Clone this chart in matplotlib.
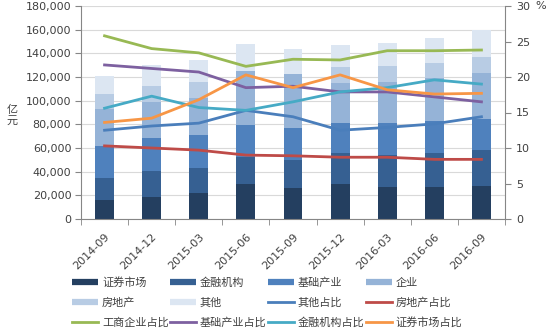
import matplotlib
matplotlib.use("Agg")
import matplotlib.pyplot as plt
from matplotlib.lines import Line2D
import numpy as np

plt.rcParams['font.family'] = ['DejaVu Sans', 'Noto Sans CJK SC']

categories = ['2014-09', '2014-12', '2015-03', '2015-06', '2015-09',
              '2015-12', '2016-03', '2016-06', '2016-09']

# stacked bar series (亿元)
zhengquan = [16000, 18300, 22300, 29900, 25900, 29300, 26800, 26800, 28200]
jinrong = [19000, 22300, 20500, 22800, 24000, 26800, 27300, 29300, 30100]
jichu = [27000, 28100, 28200, 26700, 27300, 25300, 26700, 27000, 26500]
qiye = [31000, 30400, 31600, 45900, 45300, 33800, 35200, 36300, 38850]
fangdichan = [12600, 13600, 13300, 0, 0, 13000, 13300, 12700, 13000]
qita = [15400, 17300, 18500, 22300, 21000, 18800, 19200, 20600, 23050]

# share lines (%)
qita_pct = [12.5, 13.1, 13.5, 15.3, 14.4, 12.5, 12.9, 13.4, 14.4]
fdc_pct = [10.3, 10.0, 9.7, 9.0, 8.9, 8.7, 8.7, 8.4, 8.4]
gsqy_pct = [25.8, 24.0, 23.4, 21.5, 22.5, 22.4, 23.7, 23.7, 23.8]
jccy_pct = [21.7, 21.2, 20.7, 18.5, 18.7, 17.9, 17.9, 17.2, 16.5]
jrjg_pct = [15.6, 17.3, 15.7, 15.3, 16.5, 17.9, 18.5, 19.6, 19.0]
zqsc_pct = [13.6, 14.2, 16.8, 20.3, 18.5, 20.3, 18.2, 17.6, 17.7]

bar_series = [
    ('证券市场', zhengquan, '#243F60'),
    ('金融机构', jinrong, '#366092'),
    ('基础产业', jichu, '#4F81BD'),
    ('企业', qiye, '#95B3D7'),
    ('房地产', fangdichan, '#B8CCE4'),
    ('其他', qita, '#DCE6F2'),
]
line_series = [
    ('其他占比', qita_pct, '#4A7EBB'),
    ('房地产占比', fdc_pct, '#BE4B48'),
    ('工商企业占比', gsqy_pct, '#98B954'),
    ('基础产业占比', jccy_pct, '#7D60A0'),
    ('金融机构占比', jrjg_pct, '#46AAC5'),
    ('证券市场占比', zqsc_pct, '#F79646'),
]

W, H = 554, 332
fig = plt.figure(figsize=(W / 100, H / 100), dpi=100)
ax = fig.add_axes([81 / W, 1 - 219 / H, (505 - 81) / W, (219 - 6) / H])

x = np.arange(len(categories))
bottom = np.zeros(len(categories))
handles = []
for name, vals, col in bar_series:
    ax.bar(x, vals, 0.4, bottom=bottom, color=col, zorder=2)
    bottom += np.array(vals)
    handles.append(Line2D([], [], color=col, lw=4.5, solid_capstyle='butt', label=name))

ax.set_xlim(-0.5, len(categories) - 0.5)
ax.set_ylim(0, 180000)
ax.set_yticks(np.arange(0, 180001, 20000))
ax.set_yticklabels([f'{v:,}' for v in range(0, 180001, 20000)])
ax.yaxis.grid(True, color='#D9D9D9', lw=0.8, zorder=0)
ax.set_axisbelow(True)
ax.set_xticks(x)
ax.set_xticklabels(categories, rotation=45, ha='right', va='top',
                   rotation_mode='anchor')
ax.set_xticks(np.arange(-0.5, len(categories), 1), minor=True)
ax.tick_params(axis='x', which='major', length=0, pad=9, labelsize=8, labelcolor='#404040')
ax.tick_params(axis='x', which='minor', length=4, color='#868686', direction='out')
ax.tick_params(axis='y', length=4, color='#868686', labelsize=8, labelcolor='#404040', pad=3)
for s in ['top', 'right']:
    ax.spines[s].set_visible(False)
for s in ['left', 'bottom']:
    ax.spines[s].set_color('#868686')

ax2 = ax.twinx()
for name, vals, col in line_series:
    ax2.plot(x, vals, color=col, lw=2, zorder=3)
    handles.append(Line2D([], [], color=col, lw=2, label=name))
ax2.set_ylim(0, 30)
ax2.set_yticks(np.arange(0, 31, 5))
ax2.tick_params(axis='y', length=4, color='#868686', labelsize=8, labelcolor='#404040', pad=4)
for s in ['top', 'left', 'bottom']:
    ax2.spines[s].set_visible(False)
ax2.spines['right'].set_color('#868686')

fig.text(12 / W, 1 - 115 / H, '亿\n元', fontsize=8, color='#404040',
         ha='center', va='center', linespacing=1.1)
fig.text(541 / W, 1 - 6 / H, '%', fontsize=8, color='#404040', ha='center', va='center')

# legend: row-major order as in reference
ncol = 4
nrow = 3
ordered = [handles[r * ncol + c] for c in range(ncol) for r in range(nrow)]
leg = fig.legend(handles=ordered, labels=[h.get_label() for h in ordered],
                 ncol=ncol, loc='upper left', bbox_to_anchor=(72 / W, 1 - 277 / H),
                 frameon=False, fontsize=8, handlelength=2.35, handletextpad=0.35,
                 columnspacing=0.1, labelspacing=0.85, borderpad=0, borderaxespad=0)
for t in leg.get_texts():
    t.set_color('#404040')

fig.savefig('out.png', dpi=100)
